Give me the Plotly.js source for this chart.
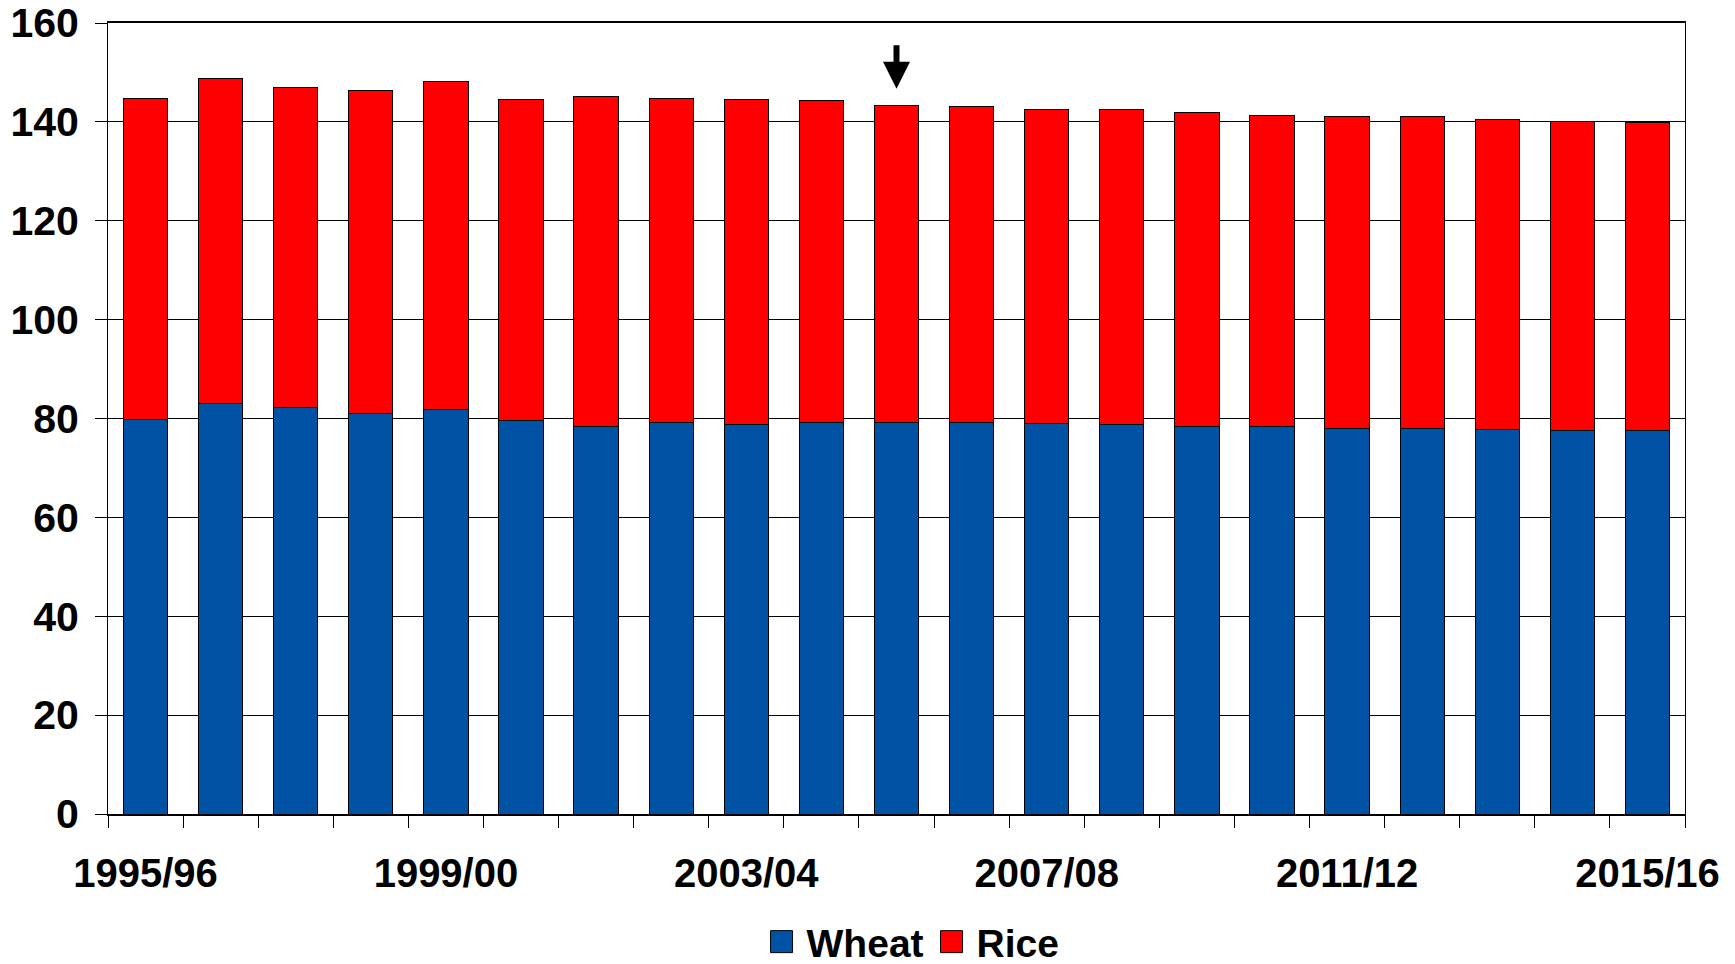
<!DOCTYPE html>
<html>
<head>
<meta charset="utf-8">
<script src="https://cdn.plot.ly/plotly-3.0.1.min.js"></script>
<style>
html,body{margin:0;padding:0;background:#fff;}
#chart{width:1735px;height:964px;}
</style>
</head>
<body>
<div id="chart"></div>
<script>
const categories = ["1995/96","1996/97","1997/98","1998/99","1999/00","2000/01","2001/02","2002/03","2003/04","2004/05","2005/06","2006/07","2007/08","2008/09","2009/10","2010/11","2011/12","2012/13","2013/14","2014/15","2015/16"];
const wheat = [79.8, 83.1, 82.3, 81.1, 81.9, 79.5, 78.4, 79.2, 78.7, 79.2, 79.2, 79.2, 79.0, 78.7, 78.4, 78.4, 78.0, 78.0, 77.7, 77.5, 77.5];
const rice  = [65.0, 65.6, 64.6, 65.3, 66.3, 65.1, 66.7, 65.6, 65.9, 65.2, 64.2, 63.9, 63.6, 63.9, 63.5, 62.9, 63.0, 63.0, 62.8, 62.6, 62.3];
const tickLabels = ["1995/96","1999/00","2003/04","2007/08","2011/12","2015/16"];
const yTicks = [0, 20, 40, 60, 80, 100, 120, 140, 160];
const arrowCategory = "2005/06";
const arrowTipValue = 146.7;

const idx = categories.map((c, i) => i);
const tickIdx = tickLabels.map(t => categories.indexOf(t));
const FONT = "Liberation Sans, Arial, sans-serif";

const traces = [
  {type: "bar", name: "Wheat", x: idx, y: wheat, hovertext: categories, hoverinfo: "text+y", textposition: "none",
   marker: {color: "#0052A4", line: {color: "#000", width: 1}}},
  {type: "bar", name: "Rice", x: idx, y: rice, hovertext: categories, hoverinfo: "text+y", textposition: "none",
   marker: {color: "#FF0000", line: {color: "#000", width: 1}}}
];

const layout = {
  width: 1735, height: 964,
  margin: {l: 108, r: 50, t: 23, b: 150, autoexpand: false},
  paper_bgcolor: "#fff", plot_bgcolor: "#fff",
  barmode: "stack", bargap: 0.41,
  font: {family: FONT, color: "#000", size: 36, weight: "bold"},
  showlegend: true,
  legend: {orientation: "h", x: 0.4176, xanchor: "left", yref: "paper", y: -0.202, yanchor: "bottom",
           entrywidth: 125, entrywidthmode: "pixels",
           font: {family: FONT, size: 39, weight: "bold", color: "#000"}, traceorder: "normal",
           itemclick: false, itemdoubleclick: false},
  xaxis: {
    range: [-0.5, 20.5], tickmode: "array", tickvals: tickIdx, ticktext: tickLabels,
    ticks: "", showgrid: false, zeroline: false,
    showline: true, linecolor: "#000", linewidth: 2, mirror: true,
    tickfont: {family: FONT, size: 40, weight: "bold", color: "#000"},
    ticklabelstandoff: 23,
    minor: {tick0: -0.5, dtick: 1, ticks: "outside", ticklen: 12, tickwidth: 1, tickcolor: "#000", showgrid: false}
  },
  yaxis: {
    range: [0, 160], tickmode: "array", tickvals: yTicks,
    ticks: "outside", ticklen: 12, tickwidth: 1, tickcolor: "#000",
    showgrid: true, gridcolor: "#000", gridwidth: 1, zeroline: false,
    showline: true, linecolor: "#000", linewidth: 1, mirror: true,
    tickfont: {family: FONT, size: 41, weight: "bold", color: "#000"},
    ticklabelstandoff: 8
  },
  annotations: [{
    x: categories.indexOf(arrowCategory), y: arrowTipValue, xref: "x", yref: "y",
    text: "", showarrow: true, arrowhead: 2, arrowsize: 0.9, arrowwidth: 6, arrowcolor: "#000",
    ax: 0, ay: -45, standoff: 0
  }]
};

Plotly.newPlot("chart", traces, layout, {staticPlot: true, displayModeBar: false}).then(function () {
  document.querySelectorAll("#chart .legend .legendpoints path").forEach(function (p) {
    p.setAttribute("d", "M6,11H-16V-11H6Z");
  });
});
</script>
</body>
</html>
